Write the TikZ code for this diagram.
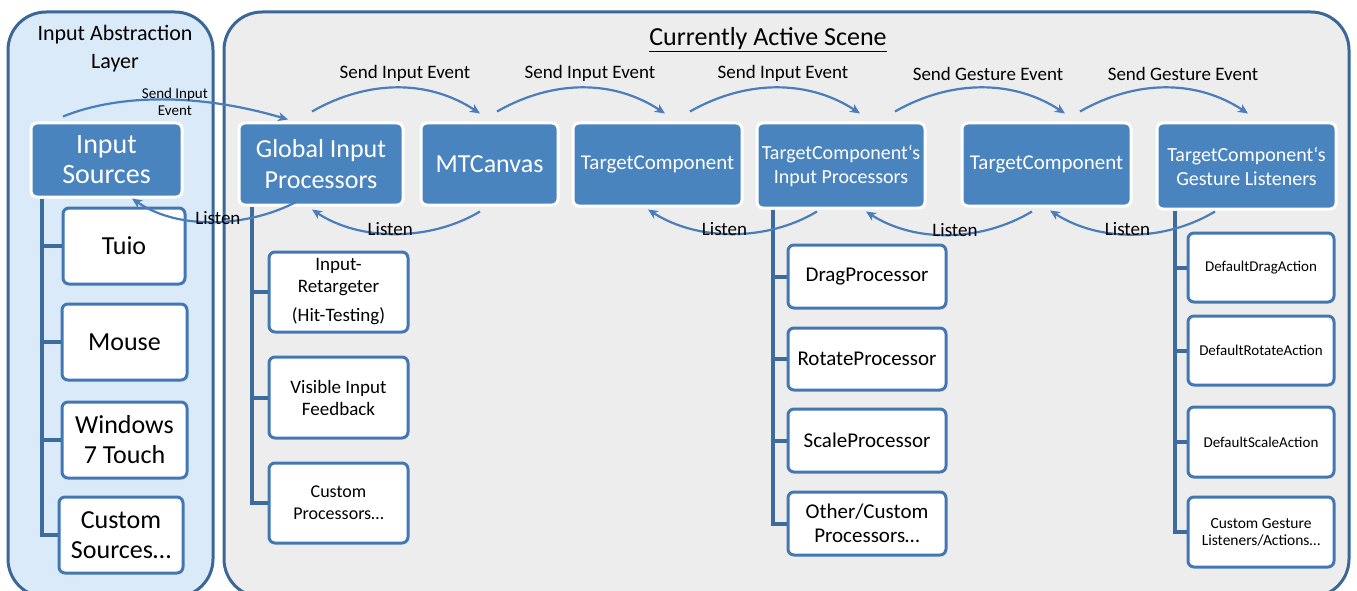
\documentclass[tikz,border=0pt]{standalone}
\usepackage{fontspec}
\setmainfont{Carlito}
\usetikzlibrary{arrows.meta}
\definecolor{boxblue}{HTML}{4A84BE}
\definecolor{panelc}{HTML}{3A6797}
\definecolor{leftfill}{HTML}{DBEAF9}
\definecolor{rightfill}{HTML}{EDEDED}
\definecolor{wborder}{HTML}{4277B4}
\definecolor{treec}{HTML}{3C6B9E}
\definecolor{arrc}{HTML}{4A7EBB}
\newcommand{\fs}[2]{\fontsize{#1}{#2}\selectfont}
\begin{document}
\begin{tikzpicture}[x=1pt,y=-1pt,
  panel/.style={draw=panelc, line width=3pt, rounded corners=38pt},
  bbox/.style={draw=white, line width=3pt, fill=boxblue, rounded corners=6pt, text=white, align=center, inner sep=2pt},
  wbox/.style={draw=wborder, line width=3pt, fill=white, rounded corners=6pt, align=center, inner sep=2pt},
  tree/.style={draw=treec, line width=4pt, line join=miter},
  arr/.style={draw=arrc, line width=2.2pt, -{Stealth[length=10pt,width=9pt,inset=3pt]}},
  lbl/.style={font=\fs{19}{22}, inner sep=1pt, align=center}]
\useasboundingbox (0,0) rectangle (1357,591);
% panels
\node[panel, fill=leftfill, minimum width=205pt, minimum height=585pt] (lpanel) at (110.5,304.5) {};
\node[panel, fill=rightfill, minimum width=1125pt, minimum height=585pt] (rpanel) at (786.5,304.5) {};
\node[font=\fs{22}{28}, align=center] (ltitle) at (115,49) {Input Abstraction\\Layer};
\node[font=\fs{26}{30}] (rtitle) at (768,40) {\underline{Currently Active Scene}};
% main boxes
\node[bbox, minimum width=151pt, minimum height=74pt, font=\fs{28}{30}] (insrc) at (106.5,160) {Input\\Sources};
\node[bbox, minimum width=164pt, minimum height=82pt, font=\fs{26}{31}] (glob) at (321,164) {Global Input\\Processors};
\node[bbox, minimum width=137pt, minimum height=82pt, font=\fs{26}{30}] (mtc) at (489.5,164) {MTCanvas};
\node[bbox, minimum width=169pt, minimum height=83pt, font=\fs{21}{24}] (tc1) at (657.5,164.5) {TargetComponent};
\node[bbox, minimum width=168pt, minimum height=85pt, font=\fs{20}{24}] (tcip) at (841,165.5) {TargetComponent‘s\\Input Processors};
\node[bbox, minimum width=169pt, minimum height=83pt, font=\fs{21}{24}] (tc2) at (1046.5,164.5) {TargetComponent};
\node[bbox, minimum width=179pt, minimum height=86pt, font=\fs{20}{24}] (tcgl) at (1246.5,166) {TargetComponent‘s\\Gesture Listeners};
% left children
\node[wbox, minimum width=122pt, minimum height=76pt, font=\fs{26}{30}] (tuio) at (124,246) {Tuio};
\node[wbox, minimum width=125pt, minimum height=76pt, font=\fs{26}{30}] (mouse) at (124.5,342) {Mouse};
\node[wbox, minimum width=125pt, minimum height=76pt, font=\fs{26}{30}] (win) at (124.5,440) {Windows\\7 Touch};
\node[wbox, minimum width=124pt, minimum height=76pt, font=\fs{26}{30}] (csrc) at (121,535) {Custom\\Sources…};
% global children
\node[wbox, minimum width=139pt, minimum height=80pt, font=\fs{19}{22}] (ir) at (338.5,292) {Input-\\Retargeter\\[7pt](Hit-Testing)};
\node[wbox, minimum width=139pt, minimum height=81pt, font=\fs{19}{22}] (vif) at (338.5,397.5) {Visible Input\\Feedback};
\node[wbox, minimum width=139pt, minimum height=80pt, font=\fs{18}{22}] (cp) at (338.5,503) {Custom\\Processors…};
% tcip children
\node[wbox, minimum width=158pt, minimum height=63pt, font=\fs{21}{24}] (drag) at (867,276.5) {DragProcessor};
\node[wbox, minimum width=158pt, minimum height=62pt, font=\fs{21}{24}] (rot) at (867,359) {RotateProcessor};
\node[wbox, minimum width=158pt, minimum height=63pt, font=\fs{21}{24}] (scl) at (867,440.5) {ScaleProcessor};
\node[wbox, minimum width=158pt, minimum height=63pt, font=\fs{21}{24}] (oth) at (867,523.5) {Other/Custom\\Processors…};
% tcgl children
\node[wbox, minimum width=146pt, minimum height=69pt, font=\fs{15}{17}] (dda) at (1261,267.5) {DefaultDragAction};
\node[wbox, minimum width=146pt, minimum height=69pt, font=\fs{15}{17}] (dra) at (1261,350.5) {DefaultRotateAction};
\node[wbox, minimum width=146pt, minimum height=70pt, font=\fs{15}{17}] (dsa) at (1261,442) {DefaultScaleAction};
\node[wbox, minimum width=146pt, minimum height=70pt, font=\fs{15.5}{17}] (cgl) at (1261,532) {Custom Gesture\\Listeners/Actions…};
% trees
\coordinate (lt) at ([xshift=12pt]insrc.south west);
\draw[tree] (lt) -- (lt |- csrc.west) -- (csrc.west);
\draw[tree] (lt |- tuio.west) -- (tuio.west);
\draw[tree] (lt |- mouse.west) -- (mouse.west);
\draw[tree] (lt |- win.west) -- (win.west);
\coordinate (gt) at ([xshift=14pt]glob.south west);
\draw[tree] (gt) -- (gt |- cp.west) -- (cp.west);
\draw[tree] (gt |- ir.west) -- (ir.west);
\draw[tree] (gt |- vif.west) -- (vif.west);
\coordinate (pt) at ([xshift=17pt]tcip.south west);
\draw[tree] (pt) -- (pt |- oth.west) -- (oth.west);
\draw[tree] (pt |- drag.west) -- (drag.west);
\draw[tree] (pt |- rot.west) -- (rot.west);
\draw[tree] (pt |- scl.west) -- (scl.west);
\coordinate (qt) at ([xshift=19pt]tcgl.south west);
\draw[tree] (qt) -- (qt |- cgl.west) -- (cgl.west);
\draw[tree] (qt |- dda.west) -- (dda.west);
\draw[tree] (qt |- dra.west) -- (dra.west);
\draw[tree] (qt |- dsa.west) -- (dsa.west);
% send arrows
\draw[arr] ([shift={(-43.5,-5)}]insrc.north) .. controls +(57,-23) and +(-88,-26) .. ([shift={(-33,-2)}]glob.north)
  node[pos=.5, xshift=11pt, yshift=-2pt, font=\fs{15}{17}, align=center, inner sep=0pt] (s1) {Send Input\\Event};
\draw[arr] ([shift={(-9,-10)}]glob.north) .. controls +(58,-33) and +(-50,-33) .. ([shift={(-9.5,-8)}]mtc.north)
  node[lbl, pos=.5, xshift=6pt, yshift=14pt] (s2) {Send Input Event};
\draw[arr] ([shift={(7.5,-10)}]mtc.north) .. controls +(58,-33) and +(-50,-33) .. ([shift={(7.5,-8)}]tc1.north)
  node[lbl, pos=.5, xshift=6pt, yshift=14pt] (s3) {Send Input Event};
\draw[arr] ([shift={(32.5,-10)}]tc1.north) .. controls +(58,-33) and +(-50,-33) .. ([shift={(19,-8)}]tcip.north)
  node[lbl, pos=.5, xshift=5pt, yshift=14pt] (s4) {Send Input Event};
\draw[arr] ([shift={(54,-10)}]tcip.north) .. controls +(58,-33) and +(-50,-33) .. ([shift={(18.5,-8)}]tc2.north)
  node[lbl, pos=.5, xshift=5pt, yshift=14pt] (s5) {Send Gesture Event};
\draw[arr] ([shift={(33.5,-10)}]tc2.north) .. controls +(58,-33) and +(-50,-33) .. ([shift={(1.5,-8)}]tcgl.north)
  node[lbl, pos=.5, xshift=16pt, yshift=14pt] (s6) {Send Gesture Event};
% listen arrows
\draw[arr] ([shift={(-24,-5)}]glob.south) .. controls +(-47,25) and +(48,33) .. ([shift={(25.5,0)}]insrc.south)
  node[lbl, pos=.5, xshift=3pt, yshift=4pt] (l1) {Listen};
\draw[arr] ([shift={(-9.5,5)}]mtc.south) .. controls +(-50,30) and +(48,32) .. ([shift={(-9,3)}]glob.south)
  node[lbl, pos=.5, xshift=-5pt, yshift=5pt] (l2) {Listen};
\draw[arr] ([shift={(-24,2)}]tcip.south) .. controls +(-50,30) and +(50,32) .. ([shift={(-9.5,2)}]tc1.south)
  node[lbl, pos=.5, xshift=-8pt, yshift=5pt] (l3) {Listen};
\draw[arr] ([shift={(-14.5,4)}]tc2.south) .. controls +(-50,30) and +(50,32) .. ([shift={(25,2)}]tcip.south)
  node[lbl, pos=.5, xshift=6pt, yshift=5pt] (l4) {Listen};
\draw[arr] ([shift={(-31.5,1)}]tcgl.south) .. controls +(-50,30) and +(50,32) .. ([shift={(3.5,3)}]tc2.south)
  node[lbl, pos=.5, xshift=-5pt, yshift=5pt] (l5) {Listen};
\end{tikzpicture}
\end{document}
